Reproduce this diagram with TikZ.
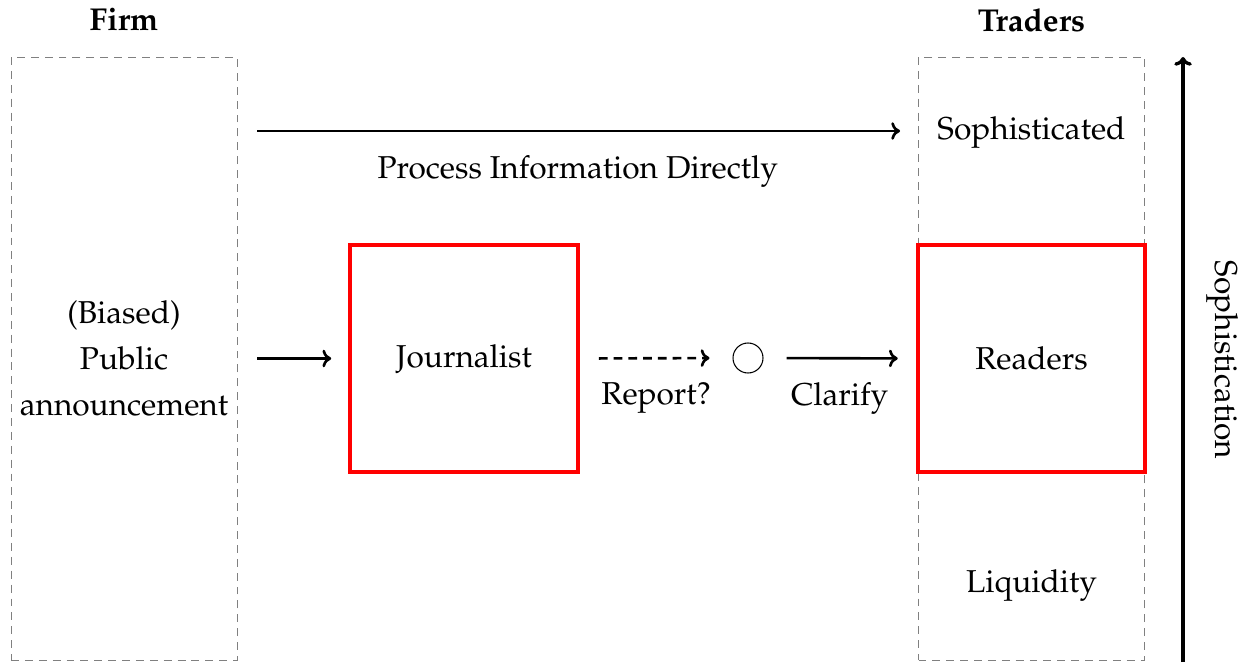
\documentclass[tikz,border=0pt]{standalone}
\usepackage[T1]{fontenc}
\usepackage{mathpazo}
\usetikzlibrary{arrows.meta, positioning}

\tikzset{
  group/.style={draw=gray, dash pattern=on 4.5pt off 3.4pt, line width=0.5pt, minimum width=4.52cm, minimum height=12.06cm, align=center},
  agent/.style={draw=red, line width=2.3pt, minimum width=4.55cm, minimum height=4.54cm},
  flow/.style={-{To[length=5pt,width=10pt]}, line width=1.5pt},
  head/.style={font=\fontsize{18}{26}\selectfont\bfseries}
}

\begin{document}
\begin{tikzpicture}[font=\fontsize{18}{26}\selectfont]
  \useasboundingbox (0,0) rectangle (24.9,13.24);

  % columns
  \node[group] (firmbox) at (2.48,6.07) {(Biased)\\Public\\announcement};
  \node[group] (tradersbox) at (20.63,6.07) {};
  \node[head] (firm) at (2.48,12.84) {Firm};
  \node[head] (traders) at (20.63,12.84) {Traders};

  % trader types
  \node (soph) at (20.63,10.58) {Sophisticated};
  \node[agent] (readers) at (20.63,6.07) {Readers};
  \node (liq) at (20.63,1.52) {Liquidity};

  % media
  \node[agent] (journalist) at (9.28,6.07) {Journalist};
  \node[circle, draw, line width=0.6pt, minimum size=0.6cm, inner sep=0pt] (outlet) at (14.96,6.08) {};

  % flows
  \coordinate (topin) at (firmbox.east |- 0,10.62);
  \coordinate (topout) at (tradersbox.west |- 0,10.62);
  \draw[flow, shorten <=0.4cm, shorten >=0.36cm] (topin) -- node[below=10pt] {Process Information Directly} (topout);
  \draw[flow, shorten <=0.4cm, shorten >=0.34cm] (firmbox.east |- journalist) -- (journalist.west);
  \draw[flow, dash pattern=on 5pt off 3.4pt, shorten <=0.38cm, shorten >=0.46cm] (journalist.east) -- node[below=10pt] {Report?} (outlet.west);
  \draw[flow, shorten <=0.46cm, shorten >=0.36cm] (outlet.east) -- node[below=10pt] {Clarify} (readers.west);

  % sophistication axis
  \coordinate (axbot) at (23.66,0);
  \coordinate (axtop) at (23.66,12.1);
  \draw[flow, line width=1.9pt] (axbot) -- (axtop);
  \node[rotate=-90] (axlabel) at (24.44,6.04) {Sophistication};
\end{tikzpicture}
\end{document}
